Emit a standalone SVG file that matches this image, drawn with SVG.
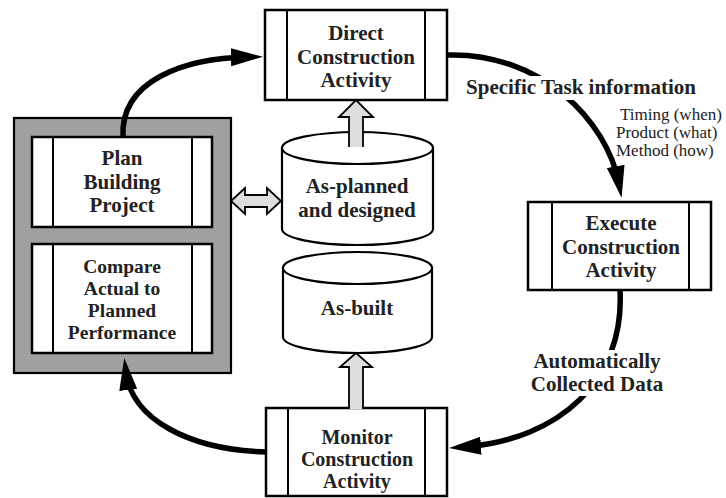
<svg xmlns="http://www.w3.org/2000/svg" width="726" height="498" viewBox="0 0 726 498">
<style>
.box{fill:#fff;stroke:#000;stroke-width:2.5}
.bar{stroke:#000;stroke-width:2}
.lbl{font-family:"Liberation Serif","Times New Roman",serif;font-weight:bold;font-size:21px;fill:#222;text-anchor:middle}
.cmp{font-size:19.5px}
.mon{font-size:20px}
.sm{font-family:"Liberation Serif","Times New Roman",serif;font-size:17px;fill:#222}
.conn{fill:none;stroke:#000;stroke-width:5.5}
.hollow{fill:#dedede;stroke:#000;stroke-width:1.8;stroke-linejoin:miter}
.cyl{fill:#fff;stroke:#000;stroke-width:2.2}
</style>
<defs>
<marker id="ah" markerUnits="userSpaceOnUse" markerWidth="32" markerHeight="20" viewBox="0 0 32 20" refX="18" refY="10" orient="auto">
<path d="M0,1 L32,10 L0,19 z" fill="#000"/>
</marker>
</defs>
<rect width="726" height="498" fill="#fff"/>

<g id="frame">
<rect x="14" y="118" width="217" height="255" fill="#a0a0a0" stroke="#000" stroke-width="2.2"/>
</g>

<g id="plan">
<rect class="box" x="32" y="137" width="180" height="90"/>
<line class="bar" x1="53" y1="137" x2="53" y2="227"/>
<line class="bar" x1="192" y1="137" x2="192" y2="227"/>
<text class="lbl" x="122" y="165">Plan</text>
<text class="lbl" x="122" y="189">Building</text>
<text class="lbl" x="122" y="212">Project</text>
</g>

<g id="compare">
<rect class="box" x="32" y="244" width="180" height="109"/>
<line class="bar" x1="53" y1="244" x2="53" y2="353"/>
<line class="bar" x1="192" y1="244" x2="192" y2="353"/>
<text class="lbl cmp" x="122" y="273">Compare</text>
<text class="lbl cmp" x="122" y="295">Actual to</text>
<text class="lbl cmp" x="122" y="317">Planned</text>
<text class="lbl cmp" x="122" y="339">Performance</text>
</g>

<g id="direct">
<rect class="box" x="265" y="10" width="182" height="90"/>
<line class="bar" x1="287" y1="10" x2="287" y2="100"/>
<line class="bar" x1="425" y1="10" x2="425" y2="100"/>
<text class="lbl" x="356" y="40">Direct</text>
<text class="lbl" x="356" y="64">Construction</text>
<text class="lbl" x="356" y="87">Activity</text>
</g>

<g id="execute">
<rect class="box" x="528" y="202" width="183" height="88"/>
<line class="bar" x1="552" y1="202" x2="552" y2="290"/>
<line class="bar" x1="689" y1="202" x2="689" y2="290"/>
<text class="lbl" x="621" y="230">Execute</text>
<text class="lbl" x="621" y="254">Construction</text>
<text class="lbl" x="621" y="277">Activity</text>
</g>

<g id="monitor">
<rect class="box" x="266" y="408" width="181" height="88"/>
<line class="bar" x1="288" y1="408" x2="288" y2="496"/>
<line class="bar" x1="425" y1="408" x2="425" y2="496"/>
<text class="lbl mon" x="357" y="444">Monitor</text>
<text class="lbl mon" x="357" y="466">Construction</text>
<text class="lbl mon" x="357" y="488">Activity</text>
</g>

<g id="asplanned">
<path class="cyl" d="M282,148 L282,229 A75.5,16 0 0 0 433,229 L433,148 Z"/>
<ellipse class="cyl" cx="357.5" cy="148" rx="75.5" ry="16"/>
<text class="lbl" x="357" y="193">As-planned</text>
<text class="lbl" x="357" y="217">and designed</text>
</g>

<g id="asbuilt">
<path class="cyl" d="M283,268 L283,337 A74.5,16 0 0 0 432,337 L432,268 Z"/>
<ellipse class="cyl" cx="357.5" cy="268" rx="74.5" ry="16"/>
<text class="lbl" x="357" y="315">As-built</text>
</g>

<g id="connectors">
<path class="conn" d="M123,137 C120,80 185,58 249,57" marker-end="url(#ah)"/>
<path class="conn" d="M447,55 C540,52 607,120 619,184" marker-end="url(#ah)"/>
<path class="conn" d="M620,290 C625,380 560,440 463,447" marker-end="url(#ah)"/>
<path class="conn" d="M267,452 C190,450 132,420 126,372" marker-end="url(#ah)"/>
<path class="hollow" d="M349,147 L349,117 L339,117 L356,100 L373,117 L363,117 L363,147"/>
<path class="hollow" d="M349,409 L349,367 L340,367 L356,353 L372,367 L363,367 L363,409"/>
<path class="hollow" d="M231,201 L245,188 L245,195 L267,195 L267,188 L281,201 L267,214 L267,207 L245,207 L245,214 Z"/>
</g>

<g id="label-task">
<rect x="460" y="76" width="244" height="24" fill="#fff"/>
<text class="lbl" x="581" y="94">Specific Task information</text>
<text class="sm" x="620" y="120">Timing (when)</text>
<text class="sm" x="616" y="138">Product (what)</text>
<text class="sm" x="616" y="156">Method (how)</text>
</g>

<g id="label-data">
<rect x="526" y="350" width="144" height="46" fill="#fff"/>
<text class="lbl" x="597" y="368">Automatically</text>
<text class="lbl" x="597" y="391">Collected Data</text>
</g>
</svg>
